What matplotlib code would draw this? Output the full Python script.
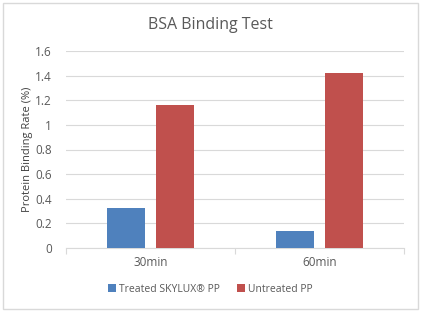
import numpy as np
import matplotlib.pyplot as plt
from matplotlib.patches import Rectangle

categories = ["30min", "60min"]
treated = [0.325, 0.14]
untreated = [1.162, 1.424]
series_names = ["Treated SKYLUX\u00ae PP", "Untreated PP"]
yticks = [0, 0.2, 0.4, 0.6, 0.8, 1, 1.2, 1.4, 1.6]
ytick_labels = ["0", "0.2", "0.4", "0.6", "0.8", "1", "1.2", "1.4", "1.6"]

BLUE = "#4F81BD"
RED = "#C0504D"
GREY = "#595959"

plt.rcParams['font.family'] = ['Open Sans', 'DejaVu Sans']

fig = plt.figure(figsize=(4.21, 3.12), dpi=100)
W, H = 421, 312
# plot area in pixels: x 66..404, y 51..248
ax = fig.add_axes([66 / W, 1 - 248 / H, (404 - 66) / W, (248 - 51) / H])

# outer chart border
fig.patches.append(Rectangle((3 / W, 3 / H), 415 / W, 306 / H, transform=fig.transFigure,
                             fill=False, edgecolor="#D9D9D9", linewidth=1))

x = np.arange(len(categories))
bw = 0.225
gap = 0.06
ax.bar(x - (bw + gap) / 2, treated, bw, color=BLUE, label=series_names[0], zorder=3)
ax.bar(x + (bw + gap) / 2, untreated, bw, color=RED, label=series_names[1], zorder=3)

ax.set_xlim(-0.5, 1.5)
ax.set_ylim(0, 1.6)
ax.set_yticks(yticks)
ax.set_yticklabels(ytick_labels)
ax.yaxis.grid(True, color="#D9D9D9", linewidth=0.8, zorder=0)
ax.set_axisbelow(True)

ax.set_xticks(x)
ax.set_xticklabels(categories)
ax.set_xticks([-0.5, 0.5, 1.5], minor=True)
ax.tick_params(axis='x', which='major', length=0, pad=6, labelsize=8.5, labelcolor=GREY)
ax.tick_params(axis='x', which='minor', length=4, color="#D9D9D9", width=0.8)
ax.tick_params(axis='y', length=0, pad=10, labelsize=8.5, labelcolor=GREY)

for s in ["top", "right", "left"]:
    ax.spines[s].set_visible(False)
ax.spines["bottom"].set_color("#D9D9D9")
ax.spines["bottom"].set_linewidth(0.8)

ax.set_ylabel("Protein Binding Rate (%)", fontsize=8, color="#404040", labelpad=2)
fig.text(0.5, 1 - 25 / H, "BSA Binding Test", ha="center", va="center",
         fontsize=11.5, color=GREY)

fig.legend(loc="center", bbox_to_anchor=(0.5, 1 - 289 / H), ncol=2, frameon=False,
           fontsize=7.5, handlelength=0.7, handleheight=0.7, handletextpad=0.3,
           columnspacing=1.7, labelcolor=GREY)

fig.savefig("out.png", dpi=100)
